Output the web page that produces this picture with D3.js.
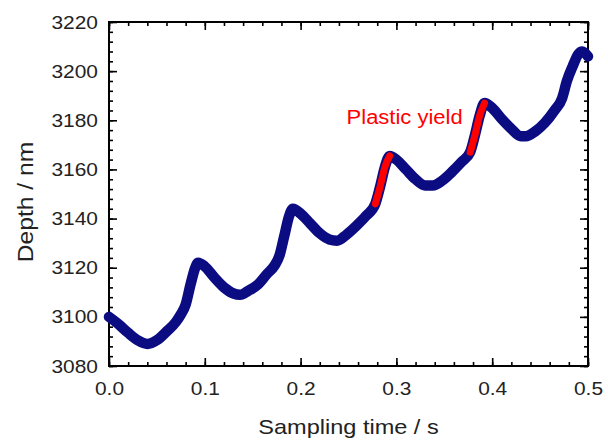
<!DOCTYPE html>
<html>
<head>
<meta charset="utf-8">
<script src="https://cdn.jsdelivr.net/npm/d3@7"></script>
<style>
  body { margin: 0; background: #fff; }
  text { font-family: "Liberation Sans", Arial, sans-serif; }
</style>
</head>
<body>
<div id="chart"></div>
<script>
// datos
const sampleTime = [0.000, 0.010, 0.020, 0.030, 0.040, 0.050, 0.060, 0.070, 0.075, 0.080, 0.085, 0.090, 0.093,
  0.100, 0.110, 0.120, 0.130, 0.137, 0.145, 0.155, 0.165, 0.173, 0.178, 0.183, 0.188, 0.192,
  0.200, 0.210, 0.220, 0.230, 0.238, 0.248, 0.258, 0.268, 0.278, 0.283, 0.288, 0.293,
  0.300, 0.310, 0.320, 0.330, 0.338, 0.348, 0.358, 0.368, 0.377, 0.382, 0.387, 0.392,
  0.400, 0.410, 0.420, 0.430, 0.435, 0.445, 0.455, 0.465, 0.473, 0.478, 0.484, 0.490, 0.494, 0.500]
const depth = [3100, 3097, 3093.5, 3090.5, 3089, 3090.5, 3094, 3098, 3101, 3105, 3113, 3120, 3122,
  3120.5, 3116, 3112, 3109.5, 3109, 3110.5, 3113, 3117.5, 3121, 3125, 3133, 3141, 3144,
  3142, 3138, 3134, 3131.5, 3131, 3133.5, 3137, 3141, 3146, 3153, 3161, 3165.5,
  3164, 3160, 3156, 3153.5, 3153.5, 3155.5, 3159, 3163, 3167, 3174, 3182, 3187,
  3185, 3180.5, 3176.5, 3173.5, 3173.5, 3175.5, 3179, 3184, 3189, 3196, 3202, 3207, 3208, 3206]
// ventanas de fluencia plastica (s)
const yieldStart = [0.278, 0.377]
const yieldEnd = [0.293, 0.392]
const xTicks = [0.0, 0.1, 0.2, 0.3, 0.4, 0.5]
const yTicks = [3080, 3100, 3120, 3140, 3160, 3180, 3200, 3220]
const annotation = "Plastic yield"

const ancho = 608
const alto = 440
const margen = { superior: 22, inferior: 74, izquierdo: 109, derecho: 20 }
const w = ancho - margen.izquierdo - margen.derecho
const h = alto - margen.superior - margen.inferior

const svg = d3.select("#chart").append("svg").attr("width", ancho).attr("height", alto)
const g = svg.append("g").attr("transform", `translate(${margen.izquierdo},${margen.superior})`)

const x = d3.scaleLinear().domain([0, 0.5]).range([0, w])
const y = d3.scaleLinear().domain([3080, 3220]).range([h, 0])

const datos = sampleTime.map((t, i) => ({ t: t, d: depth[i] }))

// estirar texto a lo ancho como en el original
function estirar(sel, f) {
  sel.each(function() {
    const l = this.getComputedTextLength()
    if (l > 0) d3.select(this).attr("textLength", l * f).attr("lengthAdjust", "spacingAndGlyphs")
  })
}

// ejes con ticks hacia dentro
const minorX = d3.range(0, 0.5001, 0.02)
const minorY = d3.range(3080, 3220.1, 4)
function ejes(sel, eje) {
  sel.call(eje)
  sel.select(".domain").remove()
  sel.selectAll("line").attr("stroke", "#000").attr("stroke-width", 1.6)
  sel.selectAll("text").attr("font-size", 19).attr("fill", "#222").call(estirar, 1.1)
}
// menores
g.append("g").attr("transform", `translate(0,${h})`)
  .call(ejes, d3.axisBottom(x).tickValues(minorX).tickSizeInner(-4).tickSizeOuter(0).tickFormat(""))
g.append("g").call(ejes, d3.axisTop(x).tickValues(minorX).tickSizeInner(-4).tickSizeOuter(0).tickFormat(""))
g.append("g").call(ejes, d3.axisLeft(y).tickValues(minorY).tickSizeInner(-4).tickSizeOuter(0).tickFormat(""))
g.append("g").attr("transform", `translate(${w},0)`)
  .call(ejes, d3.axisRight(y).tickValues(minorY).tickSizeInner(-4).tickSizeOuter(0).tickFormat(""))
// mayores
g.append("g").attr("transform", `translate(0,${h})`)
  .call(ejes, d3.axisBottom(x).tickValues(xTicks).tickSizeInner(-8).tickSizeOuter(0).tickPadding(16).tickFormat(d3.format(".1f")))
g.append("g").call(ejes, d3.axisTop(x).tickValues(xTicks).tickSizeInner(-8).tickSizeOuter(0).tickFormat(""))
g.append("g")
  .call(ejes, d3.axisLeft(y).tickValues(yTicks).tickSizeInner(-8).tickSizeOuter(0).tickPadding(11).tickFormat(d3.format("d")))
g.append("g").attr("transform", `translate(${w},0)`)
  .call(ejes, d3.axisRight(y).tickValues(yTicks).tickSizeInner(-8).tickSizeOuter(0).tickFormat(""))

g.append("rect").attr("width", w).attr("height", h)
  .attr("fill", "none").attr("stroke", "#000").attr("stroke-width", 2)

// curva
const linea = d3.line().x(d => x(d.t)).y(d => y(d.d)).curve(d3.curveMonotoneX)
g.append("path").datum(datos)
  .attr("d", linea)
  .attr("fill", "none")
  .attr("stroke", "#0c0c82")
  .attr("stroke-width", 10.5)
  .attr("stroke-linejoin", "round")
  .attr("stroke-linecap", "round")

yieldStart.forEach((s, i) => {
  const tramo = datos.filter(d => d.t >= s - 1e-9 && d.t <= yieldEnd[i] + 1e-9)
  g.append("path").datum(tramo)
    .attr("d", linea)
    .attr("fill", "none")
    .attr("stroke", "#ff0000")
    .attr("stroke-width", 7)
    .attr("stroke-linecap", "round")
})

g.append("text")
  .attr("x", x(0.248)).attr("y", y(3178.3))
  .attr("font-size", 20).attr("fill", "#ff0000")
  .text(annotation)
  .call(estirar, 1.1)

// titulos
svg.append("text")
  .attr("x", margen.izquierdo + w / 2).attr("y", 434)
  .attr("text-anchor", "middle").attr("font-size", 21).attr("fill", "#222")
  .text("Sampling time / s")
  .call(estirar, 1.12)
svg.append("text")
  .attr("transform", `translate(33,${margen.superior + h / 2 + 8}) rotate(-90)`)
  .attr("text-anchor", "middle").attr("font-size", 22).attr("fill", "#222")
  .text("Depth / nm")
  .call(estirar, 1.12)
</script>
</body>
</html>
